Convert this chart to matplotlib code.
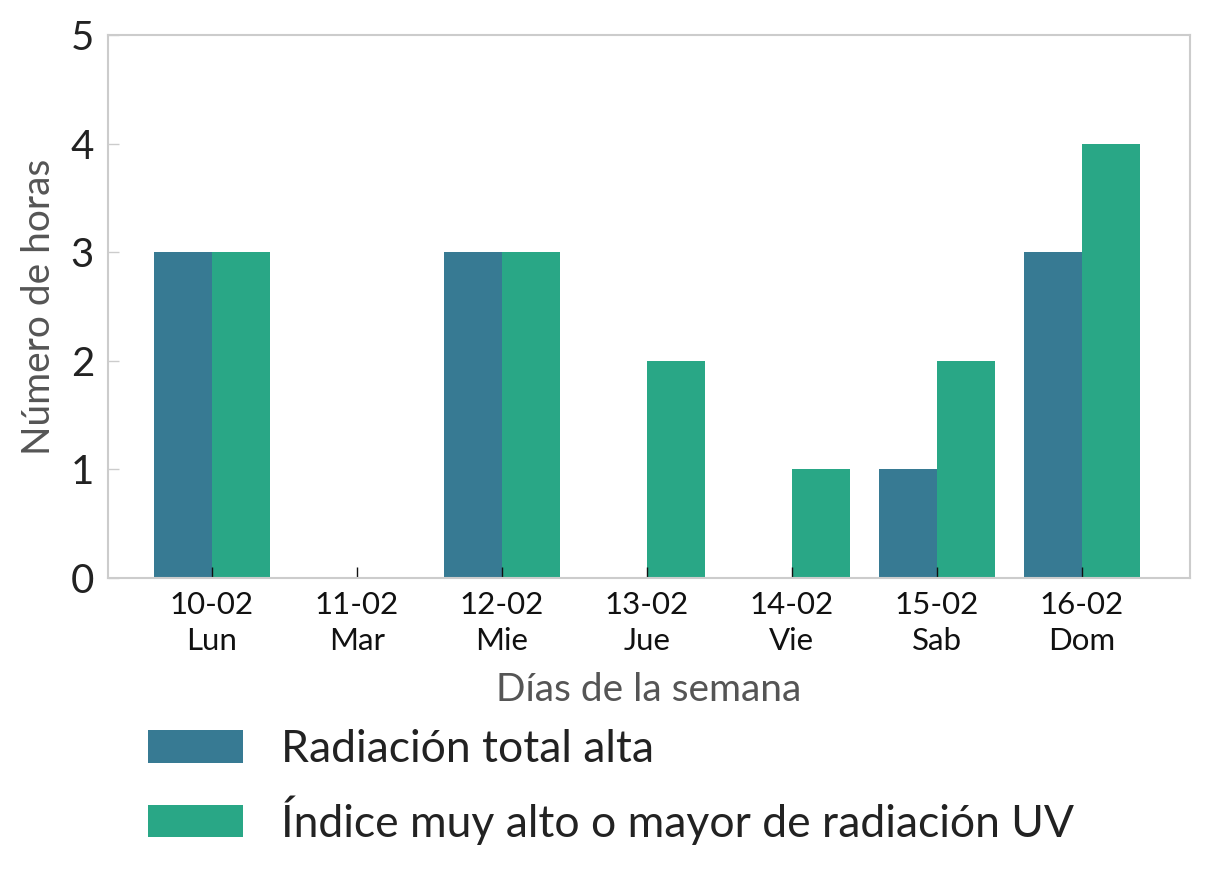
import matplotlib
matplotlib.use("Agg")
import matplotlib.pyplot as plt
import numpy as np

dates = ["10-02", "11-02", "12-02", "13-02", "14-02", "15-02", "16-02"]
days = ["Lun", "Mar", "Mie", "Jue", "Vie", "Sab", "Dom"]
radiacion_total = [3, 0, 3, 0, 0, 1, 3]
indice_uv = [3, 0, 3, 2, 1, 2, 4]
series_labels = ["Radiación total alta", "Índice muy alto o mayor de radiación UV"]
colors = ["#377A93", "#29A786"]

plt.rcParams['font.family'] = ['Lato', 'DejaVu Sans']

fig = plt.figure(figsize=(12.09, 8.86), dpi=100)
ax = fig.add_axes([0.0893, 0.3476, 0.8947, 0.6129])

x = np.arange(len(dates))
w = 0.4
ax.bar(x - w/2, radiacion_total, width=w, color=colors[0], label=series_labels[0])
ax.bar(x + w/2, indice_uv, width=w, color=colors[1], label=series_labels[1])

ax.set_xlim(-0.717, 6.745)
ax.set_ylim(0, 5)
ax.set_yticks([0, 1, 2, 3, 4, 5])
ax.set_xticks(x)
ax.set_xticklabels([f"{d}\n{dy}" for d, dy in zip(dates, days)], fontsize=22.5, color="#111111", linespacing=1.38)
ax.tick_params(axis='x', direction='in', length=8, width=1, color="#111111", pad=9)
ax.tick_params(axis='y', direction='in', length=8, width=1, color="#cccccc", labelsize=29, labelcolor="#222222", pad=10)
for s in ax.spines.values():
    s.set_color("#cccccc")
    s.set_linewidth(1.5)

ax.set_xlabel("Días de la semana", fontsize=28, color="#555555", labelpad=12)
ax.set_ylabel("Número de horas", fontsize=28, color="#555555", labelpad=10)

fig.legend(loc='upper left', bbox_to_anchor=(0.1075, 0.1975), frameon=False,
           fontsize=32, handlelength=2.14, handleheight=0.75, handletextpad=0.85,
           labelspacing=0.57, labelcolor="#222222", borderaxespad=0)

fig.savefig("out.png", dpi=100)
